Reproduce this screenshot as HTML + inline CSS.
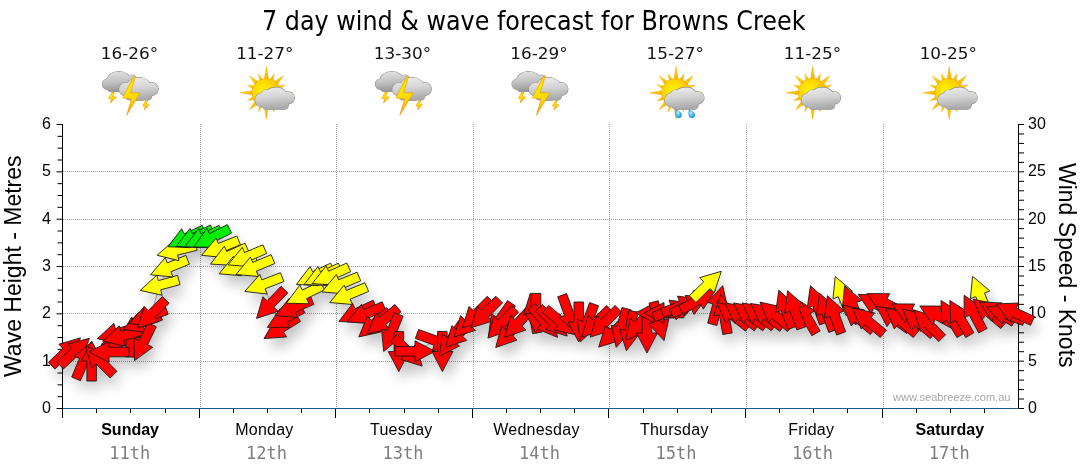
<!DOCTYPE html><html><head><meta charset="utf-8"><title>7 day wind &amp; wave forecast for Browns Creek</title>
<style>html,body{margin:0;padding:0;background:#fff;}body{width:1080px;height:475px;overflow:hidden;}svg{display:block}.t{font-family:"DejaVu Sans","Liberation Sans",sans-serif;}.a{font-family:"Liberation Sans",Arial,sans-serif;}.m{font-family:"DejaVu Sans Mono","Liberation Mono",monospace;}</style></head><body>
<svg width="1080" height="475" viewBox="0 0 1080 475">
<defs>
<linearGradient id="cg" x1="0" y1="0" x2="0.15" y2="1"><stop offset="0" stop-color="#eeeeee"/><stop offset="0.5" stop-color="#d4d4d4"/><stop offset="1" stop-color="#aaaaaa"/></linearGradient>
<linearGradient id="cg2" x1="0" y1="0" x2="0.15" y2="1"><stop offset="0" stop-color="#e4e4e4"/><stop offset="0.55" stop-color="#c3c3c3"/><stop offset="1" stop-color="#979797"/></linearGradient>
<radialGradient id="sg" cx="0.38" cy="0.42" r="0.75"><stop offset="0" stop-color="#fff400"/><stop offset="0.55" stop-color="#ffd000"/><stop offset="1" stop-color="#f5a000"/></radialGradient>
<linearGradient id="rg" x1="0" y1="0" x2="1" y2="1"><stop offset="0" stop-color="#ffe600"/><stop offset="1" stop-color="#f5a300"/></linearGradient>
<linearGradient id="bg" x1="0" y1="0" x2="0.3" y2="1"><stop offset="0" stop-color="#f5a800"/><stop offset="0.35" stop-color="#ffe800"/><stop offset="0.7" stop-color="#ffd800"/><stop offset="1" stop-color="#f29a00"/></linearGradient>
<radialGradient id="dg" cx="0.4" cy="0.4" r="0.7"><stop offset="0" stop-color="#bff0ff"/><stop offset="0.6" stop-color="#34b6f0"/><stop offset="1" stop-color="#1485d0"/></radialGradient>
<filter id="sh" x="-10%" y="-30%" width="120%" height="180%"><feGaussianBlur stdDeviation="6.5"/></filter>
<filter id="ish" x="-20%" y="-20%" width="140%" height="140%"><feGaussianBlur stdDeviation="1"/></filter>
</defs>
<text class="t" x="262" y="29.6" font-size="27" fill="#000" textLength="543.5" lengthAdjust="spacingAndGlyphs">7 day wind &amp; wave forecast for Browns Creek</text>
<text class="t" x="129.4" y="58.9" font-size="16.5" fill="#111" text-anchor="middle" textLength="57.3" lengthAdjust="spacingAndGlyphs">16-26°</text>
<text class="t" x="264.8" y="58.9" font-size="16.5" fill="#111" text-anchor="middle" textLength="57.3" lengthAdjust="spacingAndGlyphs">11-27°</text>
<text class="t" x="402.4" y="58.9" font-size="16.5" fill="#111" text-anchor="middle" textLength="57.3" lengthAdjust="spacingAndGlyphs">13-30°</text>
<text class="t" x="539.0" y="58.9" font-size="16.5" fill="#111" text-anchor="middle" textLength="57.3" lengthAdjust="spacingAndGlyphs">16-29°</text>
<text class="t" x="675.2" y="58.9" font-size="16.5" fill="#111" text-anchor="middle" textLength="57.3" lengthAdjust="spacingAndGlyphs">15-27°</text>
<text class="t" x="812.4" y="58.9" font-size="16.5" fill="#111" text-anchor="middle" textLength="57.3" lengthAdjust="spacingAndGlyphs">11-25°</text>
<text class="t" x="948.3" y="58.9" font-size="16.5" fill="#111" text-anchor="middle" textLength="57.3" lengthAdjust="spacingAndGlyphs">10-25°</text>
<path d="M63 361.5H1018 M63 313.5H1018 M63 266.5H1018 M63 219.5H1018 M63 171.5H1018 M200.5 124V408 M336.5 124V408 M473.5 124V408 M609.5 124V408 M746.5 124V408 M883.5 124V408" stroke="#a0a0a0" stroke-width="1" stroke-dasharray="1 1" fill="none"/>
<g><polygon points="112.19,91.80 114.39,91.80 112.59,96.80 116.39,97.00 110.39,103.00 111.59,98.60 108.59,98.40" fill="url(#bg)" stroke="#e69a00" stroke-width="0.6" stroke-linejoin="round"/><polygon points="145.79,100.40 147.66,100.40 146.13,104.65 149.36,104.82 144.26,109.92 145.28,106.18 142.73,106.01" fill="url(#bg)" stroke="#e69a00" stroke-width="0.6" stroke-linejoin="round"/><clipPath id="cl1"><ellipse cx="107.49" cy="84.20" rx="5.20" ry="5.20"/><ellipse cx="118.79" cy="81.00" rx="12.00" ry="9.50"/><ellipse cx="131.79" cy="80.50" rx="5.50" ry="5.50"/><rect x="107.79" y="81.00" width="25.00" height="10.50" rx="3"/></clipPath><g stroke="#999999" stroke-width="1.2" fill="#999999"><ellipse cx="107.49" cy="84.20" rx="5.20" ry="5.20"/><ellipse cx="118.79" cy="81.00" rx="12.00" ry="9.50"/><ellipse cx="131.79" cy="80.50" rx="5.50" ry="5.50"/><rect x="107.79" y="81.00" width="25.00" height="10.50" rx="3"/></g><rect x="102.29" y="71.50" width="35.00" height="20.00" fill="url(#cg2)" clip-path="url(#cl1)"/><clipPath id="cl2"><ellipse cx="125.59" cy="89.30" rx="6.50" ry="6.50"/><ellipse cx="138.79" cy="89.00" rx="13.00" ry="11.50"/><ellipse cx="151.79" cy="89.00" rx="6.40" ry="6.40"/><rect x="125.79" y="88.00" width="26.00" height="12.00" rx="4"/></clipPath><g stroke="#999999" stroke-width="1.2" fill="#999999"><ellipse cx="125.59" cy="89.30" rx="6.50" ry="6.50"/><ellipse cx="138.79" cy="89.00" rx="13.00" ry="11.50"/><ellipse cx="151.79" cy="89.00" rx="6.40" ry="6.40"/><rect x="125.79" y="88.00" width="26.00" height="12.00" rx="4"/></g><rect x="119.09" y="77.50" width="39.10" height="23.00" fill="url(#cg)" clip-path="url(#cl2)"/><polygon points="133.49,76.40 135.29,76.90 130.49,92.80 140.09,93.00 126.69,115.20 131.49,98.80 122.69,98.00" fill="url(#bg)" stroke="#e69a00" stroke-width="0.6" stroke-linejoin="round"/></g>
<g><g fill="url(#rg)" stroke="#f2a200" stroke-width="0.4"><polygon points="263.93,80.80 266.36,66.30 268.79,80.80"/><polygon points="269.06,80.86 274.20,73.86 272.89,82.45"/><polygon points="273.12,82.60 283.33,75.83 276.56,86.04"/><polygon points="276.71,86.27 285.30,84.95 278.29,90.10"/><polygon points="278.35,90.37 292.86,92.80 278.35,95.23"/><polygon points="278.29,95.50 285.30,100.65 276.71,99.33"/><polygon points="276.56,99.56 283.33,109.77 273.12,103.00"/><polygon points="272.89,103.15 274.20,111.74 269.06,104.74"/><polygon points="268.79,104.80 266.36,119.30 263.93,104.80"/><polygon points="263.65,104.74 258.51,111.74 259.83,103.15"/><polygon points="259.59,103.00 249.39,109.77 256.16,99.56"/><polygon points="256.00,99.33 247.42,100.65 254.42,95.50"/><polygon points="254.36,95.23 239.86,92.80 254.36,90.37"/><polygon points="254.42,90.10 247.42,84.95 256.00,86.27"/><polygon points="256.16,86.04 249.39,75.83 259.59,82.60"/><polygon points="259.83,82.45 258.51,73.86 263.65,80.86"/></g><circle cx="266.36" cy="92.80" r="14.4" fill="url(#sg)" stroke="#f0a000" stroke-width="0.5"/><clipPath id="cl3"><ellipse cx="261.86" cy="100.00" rx="6.70" ry="6.70"/><ellipse cx="265.86" cy="95.00" rx="5.00" ry="5.00"/><ellipse cx="275.86" cy="98.20" rx="12.50" ry="10.80"/><ellipse cx="288.36" cy="97.80" rx="6.00" ry="6.00"/><rect x="262.36" y="96.00" width="26.00" height="13.20" rx="4"/></clipPath><g stroke="#999999" stroke-width="1.2" fill="#999999"><ellipse cx="261.86" cy="100.00" rx="6.70" ry="6.70"/><ellipse cx="265.86" cy="95.00" rx="5.00" ry="5.00"/><ellipse cx="275.86" cy="98.20" rx="12.50" ry="10.80"/><ellipse cx="288.36" cy="97.80" rx="6.00" ry="6.00"/><rect x="262.36" y="96.00" width="26.00" height="13.20" rx="4"/></g><rect x="255.16" y="87.40" width="39.20" height="21.80" fill="url(#cg)" clip-path="url(#cl3)"/></g>
<g><polygon points="385.33,91.80 387.53,91.80 385.73,96.80 389.53,97.00 383.53,103.00 384.73,98.60 381.73,98.40" fill="url(#bg)" stroke="#e69a00" stroke-width="0.6" stroke-linejoin="round"/><polygon points="418.93,100.40 420.80,100.40 419.27,104.65 422.50,104.82 417.40,109.92 418.42,106.18 415.87,106.01" fill="url(#bg)" stroke="#e69a00" stroke-width="0.6" stroke-linejoin="round"/><clipPath id="cl4"><ellipse cx="380.63" cy="84.20" rx="5.20" ry="5.20"/><ellipse cx="391.93" cy="81.00" rx="12.00" ry="9.50"/><ellipse cx="404.93" cy="80.50" rx="5.50" ry="5.50"/><rect x="380.93" y="81.00" width="25.00" height="10.50" rx="3"/></clipPath><g stroke="#999999" stroke-width="1.2" fill="#999999"><ellipse cx="380.63" cy="84.20" rx="5.20" ry="5.20"/><ellipse cx="391.93" cy="81.00" rx="12.00" ry="9.50"/><ellipse cx="404.93" cy="80.50" rx="5.50" ry="5.50"/><rect x="380.93" y="81.00" width="25.00" height="10.50" rx="3"/></g><rect x="375.43" y="71.50" width="35.00" height="20.00" fill="url(#cg2)" clip-path="url(#cl4)"/><clipPath id="cl5"><ellipse cx="398.73" cy="89.30" rx="6.50" ry="6.50"/><ellipse cx="411.93" cy="89.00" rx="13.00" ry="11.50"/><ellipse cx="424.93" cy="89.00" rx="6.40" ry="6.40"/><rect x="398.93" y="88.00" width="26.00" height="12.00" rx="4"/></clipPath><g stroke="#999999" stroke-width="1.2" fill="#999999"><ellipse cx="398.73" cy="89.30" rx="6.50" ry="6.50"/><ellipse cx="411.93" cy="89.00" rx="13.00" ry="11.50"/><ellipse cx="424.93" cy="89.00" rx="6.40" ry="6.40"/><rect x="398.93" y="88.00" width="26.00" height="12.00" rx="4"/></g><rect x="392.23" y="77.50" width="39.10" height="23.00" fill="url(#cg)" clip-path="url(#cl5)"/><polygon points="406.63,76.40 408.43,76.90 403.63,92.80 413.23,93.00 399.83,115.20 404.63,98.80 395.83,98.00" fill="url(#bg)" stroke="#e69a00" stroke-width="0.6" stroke-linejoin="round"/></g>
<g><polygon points="521.90,91.80 524.10,91.80 522.30,96.80 526.10,97.00 520.10,103.00 521.30,98.60 518.30,98.40" fill="url(#bg)" stroke="#e69a00" stroke-width="0.6" stroke-linejoin="round"/><polygon points="555.50,100.40 557.37,100.40 555.84,104.65 559.07,104.82 553.97,109.92 554.99,106.18 552.44,106.01" fill="url(#bg)" stroke="#e69a00" stroke-width="0.6" stroke-linejoin="round"/><clipPath id="cl6"><ellipse cx="517.20" cy="84.20" rx="5.20" ry="5.20"/><ellipse cx="528.50" cy="81.00" rx="12.00" ry="9.50"/><ellipse cx="541.50" cy="80.50" rx="5.50" ry="5.50"/><rect x="517.50" y="81.00" width="25.00" height="10.50" rx="3"/></clipPath><g stroke="#999999" stroke-width="1.2" fill="#999999"><ellipse cx="517.20" cy="84.20" rx="5.20" ry="5.20"/><ellipse cx="528.50" cy="81.00" rx="12.00" ry="9.50"/><ellipse cx="541.50" cy="80.50" rx="5.50" ry="5.50"/><rect x="517.50" y="81.00" width="25.00" height="10.50" rx="3"/></g><rect x="512.00" y="71.50" width="35.00" height="20.00" fill="url(#cg2)" clip-path="url(#cl6)"/><clipPath id="cl7"><ellipse cx="535.30" cy="89.30" rx="6.50" ry="6.50"/><ellipse cx="548.50" cy="89.00" rx="13.00" ry="11.50"/><ellipse cx="561.50" cy="89.00" rx="6.40" ry="6.40"/><rect x="535.50" y="88.00" width="26.00" height="12.00" rx="4"/></clipPath><g stroke="#999999" stroke-width="1.2" fill="#999999"><ellipse cx="535.30" cy="89.30" rx="6.50" ry="6.50"/><ellipse cx="548.50" cy="89.00" rx="13.00" ry="11.50"/><ellipse cx="561.50" cy="89.00" rx="6.40" ry="6.40"/><rect x="535.50" y="88.00" width="26.00" height="12.00" rx="4"/></g><rect x="528.80" y="77.50" width="39.10" height="23.00" fill="url(#cg)" clip-path="url(#cl7)"/><polygon points="543.20,76.40 545.00,76.90 540.20,92.80 549.80,93.00 536.40,115.20 541.20,98.80 532.40,98.00" fill="url(#bg)" stroke="#e69a00" stroke-width="0.6" stroke-linejoin="round"/></g>
<g><g fill="url(#rg)" stroke="#f2a200" stroke-width="0.4"><polygon points="673.64,80.80 676.07,66.30 678.50,80.80"/><polygon points="678.77,80.86 683.92,73.86 682.60,82.45"/><polygon points="682.83,82.60 693.04,75.83 686.27,86.04"/><polygon points="686.42,86.27 695.01,84.95 688.01,90.10"/><polygon points="688.07,90.37 702.57,92.80 688.07,95.23"/><polygon points="688.01,95.50 695.01,100.65 686.42,99.33"/><polygon points="686.27,99.56 693.04,109.77 682.83,103.00"/><polygon points="682.60,103.15 683.92,111.74 678.77,104.74"/><polygon points="678.50,104.80 676.07,119.30 673.64,104.80"/><polygon points="673.37,104.74 668.23,111.74 669.54,103.15"/><polygon points="669.31,103.00 659.10,109.77 665.87,99.56"/><polygon points="665.72,99.33 657.13,100.65 664.13,95.50"/><polygon points="664.08,95.23 649.57,92.80 664.08,90.37"/><polygon points="664.13,90.10 657.13,84.95 665.72,86.27"/><polygon points="665.87,86.04 659.10,75.83 669.31,82.60"/><polygon points="669.54,82.45 668.23,73.86 673.37,80.86"/></g><circle cx="676.07" cy="92.80" r="14.4" fill="url(#sg)" stroke="#f0a000" stroke-width="0.5"/><path d="M675.67 111.50 Q674.67 117.50 678.87 118.10 Q682.47 117.50 681.07 113.00 L675.67 109.00 Z" fill="url(#dg)" stroke="#1b7fc0" stroke-width="0.4"/><path d="M688.87 111.50 Q687.87 117.50 692.07 118.10 Q695.67 117.50 694.27 113.00 L688.87 109.00 Z" fill="url(#dg)" stroke="#1b7fc0" stroke-width="0.4"/><clipPath id="cl8"><ellipse cx="671.57" cy="100.00" rx="6.70" ry="6.70"/><ellipse cx="675.57" cy="95.00" rx="5.00" ry="5.00"/><ellipse cx="685.57" cy="98.20" rx="12.50" ry="10.80"/><ellipse cx="698.07" cy="97.80" rx="6.00" ry="6.00"/><rect x="672.07" y="96.00" width="26.00" height="13.20" rx="4"/></clipPath><g stroke="#999999" stroke-width="1.2" fill="#999999"><ellipse cx="671.57" cy="100.00" rx="6.70" ry="6.70"/><ellipse cx="675.57" cy="95.00" rx="5.00" ry="5.00"/><ellipse cx="685.57" cy="98.20" rx="12.50" ry="10.80"/><ellipse cx="698.07" cy="97.80" rx="6.00" ry="6.00"/><rect x="672.07" y="96.00" width="26.00" height="13.20" rx="4"/></g><rect x="664.87" y="87.40" width="39.20" height="21.80" fill="url(#cg)" clip-path="url(#cl8)"/></g>
<g><g fill="url(#rg)" stroke="#f2a200" stroke-width="0.4"><polygon points="810.21,80.80 812.64,66.30 815.07,80.80"/><polygon points="815.35,80.86 820.49,73.86 819.17,82.45"/><polygon points="819.41,82.60 829.61,75.83 822.84,86.04"/><polygon points="823.00,86.27 831.58,84.95 824.58,90.10"/><polygon points="824.64,90.37 839.14,92.80 824.64,95.23"/><polygon points="824.58,95.50 831.58,100.65 823.00,99.33"/><polygon points="822.84,99.56 829.61,109.77 819.41,103.00"/><polygon points="819.17,103.15 820.49,111.74 815.35,104.74"/><polygon points="815.07,104.80 812.64,119.30 810.21,104.80"/><polygon points="809.94,104.74 804.80,111.74 806.11,103.15"/><polygon points="805.88,103.00 795.67,109.77 802.44,99.56"/><polygon points="802.29,99.33 793.70,100.65 800.70,95.50"/><polygon points="800.65,95.23 786.14,92.80 800.65,90.37"/><polygon points="800.70,90.10 793.70,84.95 802.29,86.27"/><polygon points="802.44,86.04 795.67,75.83 805.88,82.60"/><polygon points="806.11,82.45 804.80,73.86 809.94,80.86"/></g><circle cx="812.64" cy="92.80" r="14.4" fill="url(#sg)" stroke="#f0a000" stroke-width="0.5"/><clipPath id="cl9"><ellipse cx="808.14" cy="100.00" rx="6.70" ry="6.70"/><ellipse cx="812.14" cy="95.00" rx="5.00" ry="5.00"/><ellipse cx="822.14" cy="98.20" rx="12.50" ry="10.80"/><ellipse cx="834.64" cy="97.80" rx="6.00" ry="6.00"/><rect x="808.64" y="96.00" width="26.00" height="13.20" rx="4"/></clipPath><g stroke="#999999" stroke-width="1.2" fill="#999999"><ellipse cx="808.14" cy="100.00" rx="6.70" ry="6.70"/><ellipse cx="812.14" cy="95.00" rx="5.00" ry="5.00"/><ellipse cx="822.14" cy="98.20" rx="12.50" ry="10.80"/><ellipse cx="834.64" cy="97.80" rx="6.00" ry="6.00"/><rect x="808.64" y="96.00" width="26.00" height="13.20" rx="4"/></g><rect x="801.44" y="87.40" width="39.20" height="21.80" fill="url(#cg)" clip-path="url(#cl9)"/></g>
<g><g fill="url(#rg)" stroke="#f2a200" stroke-width="0.4"><polygon points="946.78,80.80 949.21,66.30 951.65,80.80"/><polygon points="951.92,80.86 957.06,73.86 955.74,82.45"/><polygon points="955.98,82.60 966.18,75.83 959.42,86.04"/><polygon points="959.57,86.27 968.15,84.95 961.15,90.10"/><polygon points="961.21,90.37 975.71,92.80 961.21,95.23"/><polygon points="961.15,95.50 968.15,100.65 959.57,99.33"/><polygon points="959.42,99.56 966.18,109.77 955.98,103.00"/><polygon points="955.74,103.15 957.06,111.74 951.92,104.74"/><polygon points="951.65,104.80 949.21,119.30 946.78,104.80"/><polygon points="946.51,104.74 941.37,111.74 942.68,103.15"/><polygon points="942.45,103.00 932.24,109.77 939.01,99.56"/><polygon points="938.86,99.33 930.27,100.65 937.28,95.50"/><polygon points="937.22,95.23 922.71,92.80 937.22,90.37"/><polygon points="937.28,90.10 930.27,84.95 938.86,86.27"/><polygon points="939.01,86.04 932.24,75.83 942.45,82.60"/><polygon points="942.68,82.45 941.37,73.86 946.51,80.86"/></g><circle cx="949.21" cy="92.80" r="14.4" fill="url(#sg)" stroke="#f0a000" stroke-width="0.5"/><clipPath id="cl10"><ellipse cx="944.71" cy="100.00" rx="6.70" ry="6.70"/><ellipse cx="948.71" cy="95.00" rx="5.00" ry="5.00"/><ellipse cx="958.71" cy="98.20" rx="12.50" ry="10.80"/><ellipse cx="971.21" cy="97.80" rx="6.00" ry="6.00"/><rect x="945.21" y="96.00" width="26.00" height="13.20" rx="4"/></clipPath><g stroke="#999999" stroke-width="1.2" fill="#999999"><ellipse cx="944.71" cy="100.00" rx="6.70" ry="6.70"/><ellipse cx="948.71" cy="95.00" rx="5.00" ry="5.00"/><ellipse cx="958.71" cy="98.20" rx="12.50" ry="10.80"/><ellipse cx="971.21" cy="97.80" rx="6.00" ry="6.00"/><rect x="945.21" y="96.00" width="26.00" height="13.20" rx="4"/></g><rect x="938.01" y="87.40" width="39.20" height="21.80" fill="url(#cg)" clip-path="url(#cl10)"/></g>
<path d="M62.5 124V417 M1018.5 124V408.5 M56.5 408.50H62.5 M57.5 396.67H62.5 M57.5 384.83H62.5 M57.5 373.00H62.5 M56.5 361.17H62.5 M57.5 349.33H62.5 M57.5 337.50H62.5 M57.5 325.67H62.5 M56.5 313.83H62.5 M57.5 302.00H62.5 M57.5 290.17H62.5 M57.5 278.33H62.5 M56.5 266.50H62.5 M57.5 254.67H62.5 M57.5 242.83H62.5 M57.5 231.00H62.5 M56.5 219.17H62.5 M57.5 207.33H62.5 M57.5 195.50H62.5 M57.5 183.67H62.5 M56.5 171.83H62.5 M57.5 160.00H62.5 M57.5 148.17H62.5 M57.5 136.33H62.5 M56.5 124.50H62.5 M1018.5 408.50H1024 M1018.5 399.03H1024 M1018.5 389.57H1024 M1018.5 380.10H1024 M1018.5 370.63H1024 M1018.5 361.17H1024 M1018.5 351.70H1024 M1018.5 342.23H1024 M1018.5 332.77H1024 M1018.5 323.30H1024 M1018.5 313.83H1024 M1018.5 304.37H1024 M1018.5 294.90H1024 M1018.5 285.43H1024 M1018.5 275.97H1024 M1018.5 266.50H1024 M1018.5 257.03H1024 M1018.5 247.57H1024 M1018.5 238.10H1024 M1018.5 228.63H1024 M1018.5 219.17H1024 M1018.5 209.70H1024 M1018.5 200.23H1024 M1018.5 190.77H1024 M1018.5 181.30H1024 M1018.5 171.83H1024 M1018.5 162.37H1024 M1018.5 152.90H1024 M1018.5 143.43H1024 M1018.5 133.97H1024 M1018.5 124.50H1024 M62.5 408V418 M96.5 408V413 M130.5 408V413 M165.5 408V413 M199.5 408V418 M233.5 408V413 M267.5 408V413 M301.5 408V413 M335.5 408V418 M369.5 408V413 M404.5 408V413 M438.5 408V413 M472.5 408V418 M506.5 408V413 M540.5 408V413 M574.5 408V413 M608.5 408V418 M643.5 408V413 M677.5 408V413 M711.5 408V413 M745.5 408V418 M779.5 408V413 M813.5 408V413 M847.5 408V413 M882.5 408V418 M916.5 408V413 M950.5 408V413 M984.5 408V413" stroke="#000" stroke-width="1" fill="none"/>
<path d="M63 408.5H1018" stroke="#1d5b8c" stroke-width="1.2" fill="none"/>
<text class="a" x="51" y="413.0" font-size="16" text-anchor="end">0</text>
<text class="a" x="51" y="365.7" font-size="16" text-anchor="end">1</text>
<text class="a" x="51" y="318.3" font-size="16" text-anchor="end">2</text>
<text class="a" x="51" y="271.0" font-size="16" text-anchor="end">3</text>
<text class="a" x="51" y="223.7" font-size="16" text-anchor="end">4</text>
<text class="a" x="51" y="176.3" font-size="16" text-anchor="end">5</text>
<text class="a" x="51" y="129.0" font-size="16" text-anchor="end">6</text>
<text class="a" x="1028" y="413.0" font-size="16">0</text>
<text class="a" x="1028" y="365.7" font-size="16">5</text>
<text class="a" x="1028" y="318.3" font-size="16">10</text>
<text class="a" x="1028" y="271.0" font-size="16">15</text>
<text class="a" x="1028" y="223.7" font-size="16">20</text>
<text class="a" x="1028" y="176.3" font-size="16">25</text>
<text class="a" x="1028" y="129.0" font-size="16">30</text>
<text class="a" x="21" y="377" font-size="23" transform="rotate(-90 21 377)">Wave Height - Metres</text>
<text class="a" x="1059" y="163" font-size="23" transform="rotate(90 1059 163)">Wind Speed - Knots</text>
<text class="a" x="130.1" y="435" font-size="16" text-anchor="middle" font-weight="bold">Sunday</text>
<text class="m" x="129.8" y="458.5" font-size="17" fill="#7e7e7e" text-anchor="middle">11th</text>
<text class="a" x="264.4" y="435" font-size="16" text-anchor="middle" letter-spacing="0.25">Monday</text>
<text class="m" x="266.4" y="458.5" font-size="17" fill="#7e7e7e" text-anchor="middle">12th</text>
<text class="a" x="401.3" y="435" font-size="16" text-anchor="middle" letter-spacing="0.25">Tuesday</text>
<text class="m" x="402.9" y="458.5" font-size="17" fill="#7e7e7e" text-anchor="middle">13th</text>
<text class="a" x="536.4" y="435" font-size="16" text-anchor="middle" letter-spacing="0.25">Wednesday</text>
<text class="m" x="539.5" y="458.5" font-size="17" fill="#7e7e7e" text-anchor="middle">14th</text>
<text class="a" x="674.3" y="435" font-size="16" text-anchor="middle" letter-spacing="0.25">Thursday</text>
<text class="m" x="676.1" y="458.5" font-size="17" fill="#7e7e7e" text-anchor="middle">15th</text>
<text class="a" x="811.3" y="435" font-size="16" text-anchor="middle" letter-spacing="0.25">Friday</text>
<text class="m" x="812.6" y="458.5" font-size="17" fill="#7e7e7e" text-anchor="middle">16th</text>
<text class="a" x="949.8" y="435" font-size="16" text-anchor="middle" font-weight="bold">Saturday</text>
<text class="m" x="949.2" y="458.5" font-size="17" fill="#7e7e7e" text-anchor="middle">17th</text>
<text class="a" x="893" y="400.6" font-size="11" fill="#a8a8a8" textLength="117.5" lengthAdjust="spacingAndGlyphs">www.seabreeze.com.au</text>
<g filter="url(#sh)" fill="#000" opacity="0.24" transform="translate(4 9)"><polygon points="80.4,337.9 73.3,359.4 69.3,355.2 55.0,369.1 48.4,362.3 62.8,348.4 58.8,344.2"/> <polygon points="89.4,338.3 81.9,359.6 78.0,355.4 63.4,369.0 56.9,362.1 71.5,348.4 67.6,344.2"/> <polygon points="91.7,342.0 93.6,364.6 88.3,362.3 80.5,380.7 71.7,377.0 79.5,358.6 74.2,356.3"/> <polygon points="91.7,341.0 102.2,361.0 96.4,361.0 96.4,381.0 86.9,381.0 86.9,361.0 81.2,361.0"/> <polygon points="85.3,346.4 106.8,353.1 102.8,357.1 116.9,371.3 110.2,378.0 96.0,363.9 92.0,367.9"/> <polygon points="101.2,344.3 119.5,331.1 120.3,336.8 140.1,334.0 141.5,343.4 121.7,346.2 122.5,351.9"/> <polygon points="131.7,317.0 141.5,337.4 135.7,337.2 135.0,357.2 125.6,356.8 126.3,336.8 120.5,336.6"/> <polygon points="89.0,352.0 109.0,341.5 109.0,347.2 129.0,347.2 129.0,356.8 109.0,356.8 109.0,362.5"/> <polygon points="97.3,338.7 113.9,323.4 115.4,328.9 134.7,323.7 137.1,332.9 117.8,338.1 119.3,343.6"/> <polygon points="102.7,341.2 119.3,325.9 120.8,331.4 140.1,326.2 142.5,335.4 123.2,340.6 124.7,346.1"/> <polygon points="123.2,329.3 138.4,312.6 140.4,318.0 159.2,311.2 162.4,320.1 143.6,327.0 145.6,332.4"/> <polygon points="129.0,323.5 144.2,306.8 146.2,312.2 165.0,305.4 168.2,314.3 149.4,321.2 151.4,326.6"/> <polygon points="134.5,360.6 133.9,338.0 139.0,340.6 147.8,322.6 156.3,326.8 147.6,344.7 152.7,347.3"/> <polygon points="137.5,328.1 144.2,306.6 148.2,310.6 162.4,296.5 169.1,303.2 155.0,317.4 159.0,321.4"/> <polygon points="140.2,290.4 156.8,275.1 158.3,280.6 177.6,275.4 180.0,284.6 160.7,289.8 162.2,295.3"/> <polygon points="150.6,274.8 165.2,257.6 167.3,262.9 185.9,255.4 189.4,264.2 170.9,271.7 173.0,277.0"/> <polygon points="157.1,255.3 174.0,240.3 175.4,245.9 194.8,241.1 197.1,250.3 177.6,255.1 179.0,260.7"/> <polygon points="168.0,246.7 181.7,228.7 184.1,233.9 202.2,225.4 206.2,234.1 188.1,242.5 190.5,247.7"/> <polygon points="176.3,246.4 190.0,228.4 192.4,233.6 210.5,225.1 214.5,233.8 196.4,242.2 198.8,247.4"/> <polygon points="184.9,246.7 198.6,228.7 201.0,233.9 219.1,225.4 223.1,234.1 205.0,242.5 207.4,247.7"/> <polygon points="193.8,247.0 206.8,228.5 209.4,233.7 227.3,224.6 231.6,233.1 213.8,242.1 216.4,247.3"/> <polygon points="201.6,255.3 216.2,238.1 218.3,243.4 236.9,236.0 240.4,244.8 221.9,252.3 224.0,257.6"/> <polygon points="210.5,264.1 224.3,246.3 226.7,251.5 244.9,243.2 248.9,251.8 230.7,260.1 233.1,265.3"/> <polygon points="219.1,273.8 233.4,256.3 235.6,261.6 254.1,253.8 257.8,262.6 239.4,270.4 241.6,275.7"/> <polygon points="228.0,264.9 242.3,247.3 244.5,252.6 262.9,244.8 266.7,253.5 248.3,261.4 250.5,266.7"/> <polygon points="236.0,274.5 250.4,257.1 252.7,262.4 271.1,254.7 274.8,263.5 256.3,271.2 258.6,276.5"/> <polygon points="244.8,291.4 259.8,274.5 261.8,279.9 280.5,272.7 283.9,281.6 265.2,288.7 267.2,294.1"/> <polygon points="256.6,318.4 262.9,296.7 267.1,300.7 281.0,286.3 287.8,292.9 273.9,307.3 278.1,311.3"/> <polygon points="264.0,338.6 275.4,319.1 278.5,324.0 295.4,313.4 300.5,321.4 283.5,332.0 286.6,336.9"/> <polygon points="267.3,327.4 280.1,308.7 282.8,313.8 300.4,304.4 304.9,312.8 287.2,322.2 289.9,327.3"/> <polygon points="275.2,315.6 289.5,298.1 291.7,303.4 310.2,295.6 313.9,304.4 295.5,312.2 297.7,317.5"/> <polygon points="286.4,303.2 299.8,285.0 302.3,290.1 320.3,281.4 324.5,289.9 306.5,298.7 309.0,303.8"/> <polygon points="296.4,284.5 310.1,266.5 312.5,271.7 330.6,263.2 334.6,271.9 316.5,280.3 318.9,285.5"/> <polygon points="304.2,284.5 317.9,266.5 320.3,271.7 338.4,263.2 342.4,271.9 324.3,280.3 326.7,285.5"/> <polygon points="312.2,283.6 326.2,265.9 328.6,271.2 346.8,263.0 350.7,271.7 332.4,279.8 334.8,285.1"/> <polygon points="321.9,291.9 336.4,274.5 338.6,279.8 357.1,272.2 360.7,280.9 342.2,288.6 344.4,293.9"/> <polygon points="329.8,302.5 344.2,285.1 346.5,290.4 364.9,282.7 368.6,291.5 350.1,299.2 352.4,304.5"/> <polygon points="338.9,321.5 352.6,303.5 355.0,308.7 373.1,300.2 377.1,308.9 359.0,317.3 361.4,322.5"/> <polygon points="347.2,321.8 361.5,304.3 363.7,309.6 382.2,301.8 385.9,310.6 367.5,318.4 369.7,323.7"/> <polygon points="358.8,336.9 367.4,316.0 371.0,320.4 386.4,307.5 392.5,314.8 377.2,327.6 380.8,332.0"/> <polygon points="367.3,333.9 375.9,313.0 379.5,317.4 394.9,304.5 401.0,311.8 385.7,324.6 389.3,329.0"/> <polygon points="383.7,351.5 381.5,329.1 386.8,331.2 394.3,312.7 403.1,316.2 395.6,334.8 400.9,336.9"/> <polygon points="398.8,371.6 388.3,351.6 394.1,351.6 394.1,331.6 403.6,331.6 403.6,351.6 409.3,351.6"/> <polygon points="422.2,366.1 400.7,359.4 404.7,355.4 390.6,341.2 397.3,334.5 411.5,348.6 415.5,344.6"/> <polygon points="435.0,351.3 415.0,361.8 415.0,356.1 395.0,356.1 395.0,346.6 415.0,346.6 415.0,340.8"/> <polygon points="454.6,347.6 432.2,350.7 434.2,345.3 415.4,338.4 418.6,329.5 437.4,336.3 439.4,330.9"/> <polygon points="442.4,371.5 431.9,351.5 437.6,351.5 437.6,331.5 447.1,331.5 447.1,351.5 452.9,351.5"/> <polygon points="439.4,356.4 442.3,334.0 447.0,337.3 458.5,320.9 466.3,326.3 454.8,342.7 459.5,346.0"/> <polygon points="445.3,347.1 452.0,325.6 456.0,329.6 470.2,315.5 476.9,322.2 462.8,336.4 466.8,340.4"/> <polygon points="453.9,337.1 460.6,315.6 464.6,319.6 478.8,305.5 485.5,312.2 471.4,326.4 475.4,330.4"/> <polygon points="462.4,327.9 469.1,306.4 473.1,310.4 487.3,296.3 494.0,303.0 479.9,317.2 483.9,321.2"/> <polygon points="470.9,327.8 477.6,306.3 481.6,310.3 495.8,296.2 502.5,302.9 488.4,317.1 492.4,321.1"/> <polygon points="488.5,336.1 491.4,313.7 496.1,317.0 507.6,300.6 515.4,306.0 503.9,322.4 508.6,325.7"/> <polygon points="487.9,338.1 493.8,316.3 498.0,320.3 511.7,305.6 518.6,312.1 505.0,326.7 509.2,330.7"/> <polygon points="495.7,347.5 501.7,325.7 505.9,329.7 519.5,315.0 526.5,321.5 512.8,336.1 517.0,340.1"/> <polygon points="504.7,337.4 510.6,315.6 514.8,319.6 528.5,304.9 535.4,311.4 521.8,326.0 526.0,330.0"/> <polygon points="530.3,293.4 544.1,311.3 538.5,312.3 542.0,332.0 532.6,333.6 529.1,313.9 523.5,314.9"/> <polygon points="536.0,333.4 525.5,313.4 531.2,313.4 531.2,293.4 540.8,293.4 540.8,313.4 546.5,313.4"/> <polygon points="557.5,337.3 536.6,328.7 541.0,325.1 528.1,309.7 535.4,303.6 548.2,318.9 552.6,315.3"/> <polygon points="567.2,336.1 545.7,329.4 549.7,325.4 535.6,311.2 542.3,304.5 556.5,318.6 560.5,314.6"/> <polygon points="576.3,334.9 554.3,330.0 557.9,325.6 542.6,312.8 548.7,305.5 564.1,318.4 567.7,314.0"/> <polygon points="575.8,332.8 559.1,317.6 564.5,315.6 557.7,296.8 566.6,293.6 573.5,312.4 578.9,310.4"/> <polygon points="578.7,342.0 568.2,322.0 574.0,322.0 574.0,302.0 583.5,302.0 583.5,322.0 589.2,322.0"/> <polygon points="580.4,341.8 577.3,319.4 582.7,321.4 589.6,302.6 598.5,305.8 591.7,324.6 597.1,326.6"/> <polygon points="581.7,337.1 588.4,315.6 592.4,319.6 606.6,305.5 613.3,312.2 599.2,326.4 603.2,330.4"/> <polygon points="590.2,337.1 596.9,315.6 600.9,319.6 615.1,305.5 621.8,312.2 607.7,326.4 611.7,330.4"/> <polygon points="598.7,347.1 605.4,325.6 609.4,329.6 623.6,315.5 630.3,322.2 616.2,336.4 620.2,340.4"/> <polygon points="616.2,347.3 611.3,325.3 616.8,326.8 622.0,307.5 631.2,309.9 626.0,329.2 631.5,330.7"/> <polygon points="626.4,350.7 619.6,329.2 625.2,330.2 628.7,310.5 638.1,312.1 634.6,331.8 640.2,332.8"/> <polygon points="625.5,340.3 630.4,318.3 634.8,321.9 647.6,306.6 654.9,312.7 642.0,328.1 646.4,331.7"/> <polygon points="647.0,353.0 636.5,333.0 642.2,333.0 642.2,313.0 651.8,313.0 651.8,333.0 657.5,333.0"/> <polygon points="635.5,313.0 655.5,302.5 655.5,308.2 675.5,308.2 675.5,317.8 655.5,317.8 655.5,323.5"/> <polygon points="664.0,340.6 648.7,324.0 654.2,322.5 649.0,303.2 658.2,300.8 663.4,320.1 668.9,318.6"/> <polygon points="644.0,313.0 664.0,302.5 664.0,308.2 684.0,308.2 684.0,317.8 664.0,317.8 664.0,323.5"/> <polygon points="691.4,303.2 676.2,319.9 674.2,314.5 655.4,321.3 652.2,312.4 671.0,305.5 669.0,300.1"/> <polygon points="699.9,299.2 684.7,315.9 682.7,310.5 663.9,317.3 660.7,308.4 679.5,301.5 677.5,296.1"/> <polygon points="707.7,296.5 694.0,314.5 691.6,309.3 673.5,317.8 669.5,309.1 687.6,300.7 685.2,295.5"/> <polygon points="715.4,290.0 703.4,309.1 700.5,304.1 683.2,314.1 678.4,305.9 695.7,295.9 692.9,290.9"/> <polygon points="721.3,271.3 714.2,292.8 710.2,288.6 695.9,302.5 689.3,295.7 703.7,281.8 699.7,277.6"/> <polygon points="722.7,285.7 727.6,307.7 722.1,306.2 716.9,325.5 707.7,323.1 712.9,303.8 707.4,302.3"/> <polygon points="720.5,294.3 734.3,312.2 728.7,313.2 732.2,332.9 722.8,334.5 719.3,314.8 713.7,315.8"/> <polygon points="716.8,302.7 739.1,306.7 735.5,311.3 751.3,323.6 745.4,331.1 729.7,318.7 726.1,323.3"/> <polygon points="725.1,303.0 747.4,306.6 744.0,311.2 759.9,323.2 754.2,330.8 738.2,318.8 734.8,323.4"/> <polygon points="733.6,303.0 755.9,306.6 752.5,311.2 768.4,323.2 762.7,330.8 746.7,318.8 743.3,323.4"/> <polygon points="742.2,303.0 764.5,306.6 761.1,311.2 777.0,323.2 771.3,330.8 755.3,318.8 751.9,323.4"/> <polygon points="750.7,303.5 773.0,307.1 769.6,311.7 785.5,323.7 779.8,331.3 763.8,319.3 760.4,323.9"/> <polygon points="759.9,302.1 781.9,307.0 778.3,311.4 793.6,324.2 787.5,331.5 772.1,318.6 768.5,323.0"/> <polygon points="778.8,290.2 795.5,305.4 790.1,307.4 796.9,326.2 788.0,329.4 781.1,310.6 775.7,312.6"/> <polygon points="796.0,298.7 815.1,310.8 810.1,313.6 820.1,330.9 811.9,335.7 801.9,318.4 796.9,321.2"/> <polygon points="787.7,290.7 804.4,305.9 799.0,307.9 805.8,326.7 796.9,329.9 790.0,311.1 784.6,313.1"/> <polygon points="810.4,285.7 827.1,300.9 821.7,302.9 828.5,321.7 819.6,324.9 812.7,306.1 807.3,308.1"/> <polygon points="819.6,293.2 836.3,308.4 830.9,310.4 837.7,329.2 828.8,332.4 821.9,313.6 816.5,315.6"/> <polygon points="827.5,295.8 844.2,311.0 838.8,313.0 845.6,331.8 836.7,335.0 829.8,316.2 824.4,318.2"/> <polygon points="835.2,276.5 852.4,291.1 847.1,293.2 854.6,311.8 845.8,315.3 838.3,296.8 833.0,298.9"/> <polygon points="844.6,285.8 861.8,300.4 856.5,302.5 864.0,321.1 855.2,324.6 847.7,306.1 842.4,308.2"/> <polygon points="842.7,305.1 864.7,310.0 861.1,314.4 876.4,327.2 870.3,334.5 854.9,321.6 851.3,326.0"/> <polygon points="852.7,308.1 874.7,313.0 871.1,317.4 886.4,330.2 880.3,337.5 864.9,324.6 861.3,329.0"/> <polygon points="858.2,294.5 880.8,294.6 878.1,299.7 895.8,309.1 891.3,317.5 873.7,308.1 871.0,313.2"/> <polygon points="867.1,293.6 889.7,293.7 887.0,298.8 904.7,308.2 900.2,316.6 882.6,307.2 879.9,312.3"/> <polygon points="876.6,306.5 899.0,309.4 895.7,314.1 912.1,325.6 906.7,333.4 890.3,321.9 887.0,326.6"/> <polygon points="885.7,308.1 907.7,313.0 904.1,317.4 919.4,330.2 913.3,337.5 897.9,324.6 894.3,329.0"/> <polygon points="892.1,303.9 914.7,304.0 912.0,309.1 929.7,318.5 925.2,326.9 907.6,317.5 904.9,322.6"/> <polygon points="902.7,309.1 924.7,314.0 921.1,318.4 936.4,331.2 930.3,338.5 914.9,325.6 911.3,330.0"/> <polygon points="913.9,309.9 935.4,316.6 931.4,320.6 945.5,334.8 938.8,341.5 924.6,327.4 920.6,331.4"/> <polygon points="919.8,306.0 942.4,306.1 939.7,311.2 957.4,320.6 952.9,329.0 935.3,319.6 932.6,324.7"/> <polygon points="941.0,300.5 960.1,312.6 955.1,315.4 965.1,332.7 956.9,337.5 946.9,320.2 941.9,323.1"/> <polygon points="949.8,300.5 968.9,312.6 963.9,315.4 973.9,332.7 965.7,337.5 955.7,320.2 950.7,323.1"/> <polygon points="964.1,295.3 982.8,308.1 977.7,310.8 987.1,328.4 978.7,332.9 969.3,315.2 964.2,317.9"/> <polygon points="972.6,276.3 989.8,290.9 984.5,293.0 992.0,311.6 983.2,315.1 975.7,296.6 970.4,298.7"/> <polygon points="973.2,299.1 995.2,304.0 991.6,308.4 1006.9,321.2 1000.8,328.5 985.4,315.6 981.8,320.0"/> <polygon points="979.7,302.0 1002.2,302.9 999.4,307.9 1016.7,317.9 1011.9,326.1 994.6,316.1 991.8,321.1"/> <polygon points="986.7,307.2 1009.1,304.1 1007.1,309.5 1025.9,316.4 1022.7,325.3 1003.9,318.5 1001.9,323.9"/> <polygon points="996.3,304.0 1018.8,303.0 1016.4,308.2 1034.5,316.6 1030.5,325.3 1012.4,316.8 1010.0,322.0"/></g>
<polyline points="66.0,351.8 74.8,351.9 83.9,360.4 91.7,361.0 99.4,360.5 109.0,352.0 116.6,333.5 121.0,341.5 122.0,336.0 131.0,337.0 142.0,322.5 143.3,342.6 147.8,316.7 151.6,314.0 159.5,285.2 169.1,267.3 176.5,250.5 186.1,238.2 194.4,237.9 203.0,238.2 211.6,237.9 220.1,247.8 228.7,255.8 237.5,266.0 246.4,257.0 254.5,266.8 263.5,284.3 270.5,304.0 281.0,328.0 285.0,318.0 293.6,307.8 304.4,294.4 314.5,276.0 322.3,276.0 330.5,275.5 340.4,284.2 348.3,294.8 357.0,313.0 365.6,314.0 374.1,324.0 382.6,321.0 391.2,333.0 398.8,351.6 408.1,352.0 415.0,351.3 435.8,340.8 442.4,351.5 450.9,340.0 459.4,333.0 468.0,323.0 476.5,313.8 485.0,313.7 500.0,319.7 501.5,323.5 509.4,332.9 518.3,322.8 533.8,313.1 536.0,313.4 544.6,322.0 553.1,322.0 561.0,322.0 569.0,314.0 578.7,322.0 587.2,323.0 595.8,323.0 604.3,323.0 612.8,333.0 621.4,328.0 629.9,331.0 638.4,325.0 647.0,333.0 655.5,313.0 658.8,321.3 664.0,313.0 672.6,310.0 681.1,306.0 689.6,305.0 698.1,300.0 707.0,285.2 717.5,305.0 724.0,314.0 732.6,315.0 741.1,315.0 749.6,315.0 758.2,315.0 766.7,315.5 775.2,315.0 785.6,309.0 794.5,309.5 806.0,316.0 817.2,304.5 826.4,312.0 834.3,314.6 842.7,295.0 852.1,304.3 858.0,318.0 868.0,321.0 875.9,303.9 884.8,303.0 893.0,318.0 901.0,321.0 909.8,313.3 918.0,322.0 928.0,324.0 937.5,315.4 951.0,317.8 959.8,317.8 973.5,313.0 980.1,294.8 988.5,312.0 997.0,312.0 1005.5,314.0 1014.4,312.5" fill="none" stroke="#999" stroke-width="1"/>
<g stroke="#1a1a1a" stroke-width="0.9" stroke-linejoin="miter"><polygon points="80.4,337.9 73.3,359.4 69.3,355.2 55.0,369.1 48.4,362.3 62.8,348.4 58.8,344.2" fill="#ff0000"/><polygon points="89.4,338.3 81.9,359.6 78.0,355.4 63.4,369.0 56.9,362.1 71.5,348.4 67.6,344.2" fill="#ff0000"/><polygon points="91.7,342.0 93.6,364.6 88.3,362.3 80.5,380.7 71.7,377.0 79.5,358.6 74.2,356.3" fill="#ff0000"/><polygon points="91.7,341.0 102.2,361.0 96.4,361.0 96.4,381.0 86.9,381.0 86.9,361.0 81.2,361.0" fill="#ff0000"/><polygon points="85.3,346.4 106.8,353.1 102.8,357.1 116.9,371.3 110.2,378.0 96.0,363.9 92.0,367.9" fill="#ff0000"/><polygon points="101.2,344.3 119.5,331.1 120.3,336.8 140.1,334.0 141.5,343.4 121.7,346.2 122.5,351.9" fill="#ff0000"/><polygon points="131.7,317.0 141.5,337.4 135.7,337.2 135.0,357.2 125.6,356.8 126.3,336.8 120.5,336.6" fill="#ff0000"/><polygon points="89.0,352.0 109.0,341.5 109.0,347.2 129.0,347.2 129.0,356.8 109.0,356.8 109.0,362.5" fill="#ff0000"/><polygon points="97.3,338.7 113.9,323.4 115.4,328.9 134.7,323.7 137.1,332.9 117.8,338.1 119.3,343.6" fill="#ff0000"/><polygon points="102.7,341.2 119.3,325.9 120.8,331.4 140.1,326.2 142.5,335.4 123.2,340.6 124.7,346.1" fill="#ff0000"/><polygon points="123.2,329.3 138.4,312.6 140.4,318.0 159.2,311.2 162.4,320.1 143.6,327.0 145.6,332.4" fill="#ff0000"/><polygon points="129.0,323.5 144.2,306.8 146.2,312.2 165.0,305.4 168.2,314.3 149.4,321.2 151.4,326.6" fill="#ff0000"/><polygon points="134.5,360.6 133.9,338.0 139.0,340.6 147.8,322.6 156.3,326.8 147.6,344.7 152.7,347.3" fill="#ff0000"/><polygon points="137.5,328.1 144.2,306.6 148.2,310.6 162.4,296.5 169.1,303.2 155.0,317.4 159.0,321.4" fill="#ff0000"/><polygon points="140.2,290.4 156.8,275.1 158.3,280.6 177.6,275.4 180.0,284.6 160.7,289.8 162.2,295.3" fill="#ffff00"/><polygon points="150.6,274.8 165.2,257.6 167.3,262.9 185.9,255.4 189.4,264.2 170.9,271.7 173.0,277.0" fill="#ffff00"/><polygon points="157.1,255.3 174.0,240.3 175.4,245.9 194.8,241.1 197.1,250.3 177.6,255.1 179.0,260.7" fill="#ffff00"/><polygon points="168.0,246.7 181.7,228.7 184.1,233.9 202.2,225.4 206.2,234.1 188.1,242.5 190.5,247.7" fill="#00ee00"/><polygon points="176.3,246.4 190.0,228.4 192.4,233.6 210.5,225.1 214.5,233.8 196.4,242.2 198.8,247.4" fill="#00ee00"/><polygon points="184.9,246.7 198.6,228.7 201.0,233.9 219.1,225.4 223.1,234.1 205.0,242.5 207.4,247.7" fill="#00ee00"/><polygon points="193.8,247.0 206.8,228.5 209.4,233.7 227.3,224.6 231.6,233.1 213.8,242.1 216.4,247.3" fill="#00ee00"/><polygon points="201.6,255.3 216.2,238.1 218.3,243.4 236.9,236.0 240.4,244.8 221.9,252.3 224.0,257.6" fill="#ffff00"/><polygon points="210.5,264.1 224.3,246.3 226.7,251.5 244.9,243.2 248.9,251.8 230.7,260.1 233.1,265.3" fill="#ffff00"/><polygon points="219.1,273.8 233.4,256.3 235.6,261.6 254.1,253.8 257.8,262.6 239.4,270.4 241.6,275.7" fill="#ffff00"/><polygon points="228.0,264.9 242.3,247.3 244.5,252.6 262.9,244.8 266.7,253.5 248.3,261.4 250.5,266.7" fill="#ffff00"/><polygon points="236.0,274.5 250.4,257.1 252.7,262.4 271.1,254.7 274.8,263.5 256.3,271.2 258.6,276.5" fill="#ffff00"/><polygon points="244.8,291.4 259.8,274.5 261.8,279.9 280.5,272.7 283.9,281.6 265.2,288.7 267.2,294.1" fill="#ffff00"/><polygon points="256.6,318.4 262.9,296.7 267.1,300.7 281.0,286.3 287.8,292.9 273.9,307.3 278.1,311.3" fill="#ff0000"/><polygon points="264.0,338.6 275.4,319.1 278.5,324.0 295.4,313.4 300.5,321.4 283.5,332.0 286.6,336.9" fill="#ff0000"/><polygon points="267.3,327.4 280.1,308.7 282.8,313.8 300.4,304.4 304.9,312.8 287.2,322.2 289.9,327.3" fill="#ff0000"/><polygon points="275.2,315.6 289.5,298.1 291.7,303.4 310.2,295.6 313.9,304.4 295.5,312.2 297.7,317.5" fill="#ff0000"/><polygon points="286.4,303.2 299.8,285.0 302.3,290.1 320.3,281.4 324.5,289.9 306.5,298.7 309.0,303.8" fill="#ffff00"/><polygon points="296.4,284.5 310.1,266.5 312.5,271.7 330.6,263.2 334.6,271.9 316.5,280.3 318.9,285.5" fill="#ffff00"/><polygon points="304.2,284.5 317.9,266.5 320.3,271.7 338.4,263.2 342.4,271.9 324.3,280.3 326.7,285.5" fill="#ffff00"/><polygon points="312.2,283.6 326.2,265.9 328.6,271.2 346.8,263.0 350.7,271.7 332.4,279.8 334.8,285.1" fill="#ffff00"/><polygon points="321.9,291.9 336.4,274.5 338.6,279.8 357.1,272.2 360.7,280.9 342.2,288.6 344.4,293.9" fill="#ffff00"/><polygon points="329.8,302.5 344.2,285.1 346.5,290.4 364.9,282.7 368.6,291.5 350.1,299.2 352.4,304.5" fill="#ffff00"/><polygon points="338.9,321.5 352.6,303.5 355.0,308.7 373.1,300.2 377.1,308.9 359.0,317.3 361.4,322.5" fill="#ff0000"/><polygon points="347.2,321.8 361.5,304.3 363.7,309.6 382.2,301.8 385.9,310.6 367.5,318.4 369.7,323.7" fill="#ff0000"/><polygon points="358.8,336.9 367.4,316.0 371.0,320.4 386.4,307.5 392.5,314.8 377.2,327.6 380.8,332.0" fill="#ff0000"/><polygon points="367.3,333.9 375.9,313.0 379.5,317.4 394.9,304.5 401.0,311.8 385.7,324.6 389.3,329.0" fill="#ff0000"/><polygon points="383.7,351.5 381.5,329.1 386.8,331.2 394.3,312.7 403.1,316.2 395.6,334.8 400.9,336.9" fill="#ff0000"/><polygon points="398.8,371.6 388.3,351.6 394.1,351.6 394.1,331.6 403.6,331.6 403.6,351.6 409.3,351.6" fill="#ff0000"/><polygon points="422.2,366.1 400.7,359.4 404.7,355.4 390.6,341.2 397.3,334.5 411.5,348.6 415.5,344.6" fill="#ff0000"/><polygon points="435.0,351.3 415.0,361.8 415.0,356.1 395.0,356.1 395.0,346.6 415.0,346.6 415.0,340.8" fill="#ff0000"/><polygon points="454.6,347.6 432.2,350.7 434.2,345.3 415.4,338.4 418.6,329.5 437.4,336.3 439.4,330.9" fill="#ff0000"/><polygon points="442.4,371.5 431.9,351.5 437.6,351.5 437.6,331.5 447.1,331.5 447.1,351.5 452.9,351.5" fill="#ff0000"/><polygon points="439.4,356.4 442.3,334.0 447.0,337.3 458.5,320.9 466.3,326.3 454.8,342.7 459.5,346.0" fill="#ff0000"/><polygon points="445.3,347.1 452.0,325.6 456.0,329.6 470.2,315.5 476.9,322.2 462.8,336.4 466.8,340.4" fill="#ff0000"/><polygon points="453.9,337.1 460.6,315.6 464.6,319.6 478.8,305.5 485.5,312.2 471.4,326.4 475.4,330.4" fill="#ff0000"/><polygon points="462.4,327.9 469.1,306.4 473.1,310.4 487.3,296.3 494.0,303.0 479.9,317.2 483.9,321.2" fill="#ff0000"/><polygon points="470.9,327.8 477.6,306.3 481.6,310.3 495.8,296.2 502.5,302.9 488.4,317.1 492.4,321.1" fill="#ff0000"/><polygon points="488.5,336.1 491.4,313.7 496.1,317.0 507.6,300.6 515.4,306.0 503.9,322.4 508.6,325.7" fill="#ff0000"/><polygon points="487.9,338.1 493.8,316.3 498.0,320.3 511.7,305.6 518.6,312.1 505.0,326.7 509.2,330.7" fill="#ff0000"/><polygon points="495.7,347.5 501.7,325.7 505.9,329.7 519.5,315.0 526.5,321.5 512.8,336.1 517.0,340.1" fill="#ff0000"/><polygon points="504.7,337.4 510.6,315.6 514.8,319.6 528.5,304.9 535.4,311.4 521.8,326.0 526.0,330.0" fill="#ff0000"/><polygon points="530.3,293.4 544.1,311.3 538.5,312.3 542.0,332.0 532.6,333.6 529.1,313.9 523.5,314.9" fill="#ff0000"/><polygon points="536.0,333.4 525.5,313.4 531.2,313.4 531.2,293.4 540.8,293.4 540.8,313.4 546.5,313.4" fill="#ff0000"/><polygon points="557.5,337.3 536.6,328.7 541.0,325.1 528.1,309.7 535.4,303.6 548.2,318.9 552.6,315.3" fill="#ff0000"/><polygon points="567.2,336.1 545.7,329.4 549.7,325.4 535.6,311.2 542.3,304.5 556.5,318.6 560.5,314.6" fill="#ff0000"/><polygon points="576.3,334.9 554.3,330.0 557.9,325.6 542.6,312.8 548.7,305.5 564.1,318.4 567.7,314.0" fill="#ff0000"/><polygon points="575.8,332.8 559.1,317.6 564.5,315.6 557.7,296.8 566.6,293.6 573.5,312.4 578.9,310.4" fill="#ff0000"/><polygon points="578.7,342.0 568.2,322.0 574.0,322.0 574.0,302.0 583.5,302.0 583.5,322.0 589.2,322.0" fill="#ff0000"/><polygon points="580.4,341.8 577.3,319.4 582.7,321.4 589.6,302.6 598.5,305.8 591.7,324.6 597.1,326.6" fill="#ff0000"/><polygon points="581.7,337.1 588.4,315.6 592.4,319.6 606.6,305.5 613.3,312.2 599.2,326.4 603.2,330.4" fill="#ff0000"/><polygon points="590.2,337.1 596.9,315.6 600.9,319.6 615.1,305.5 621.8,312.2 607.7,326.4 611.7,330.4" fill="#ff0000"/><polygon points="598.7,347.1 605.4,325.6 609.4,329.6 623.6,315.5 630.3,322.2 616.2,336.4 620.2,340.4" fill="#ff0000"/><polygon points="616.2,347.3 611.3,325.3 616.8,326.8 622.0,307.5 631.2,309.9 626.0,329.2 631.5,330.7" fill="#ff0000"/><polygon points="626.4,350.7 619.6,329.2 625.2,330.2 628.7,310.5 638.1,312.1 634.6,331.8 640.2,332.8" fill="#ff0000"/><polygon points="625.5,340.3 630.4,318.3 634.8,321.9 647.6,306.6 654.9,312.7 642.0,328.1 646.4,331.7" fill="#ff0000"/><polygon points="647.0,353.0 636.5,333.0 642.2,333.0 642.2,313.0 651.8,313.0 651.8,333.0 657.5,333.0" fill="#ff0000"/><polygon points="635.5,313.0 655.5,302.5 655.5,308.2 675.5,308.2 675.5,317.8 655.5,317.8 655.5,323.5" fill="#ff0000"/><polygon points="664.0,340.6 648.7,324.0 654.2,322.5 649.0,303.2 658.2,300.8 663.4,320.1 668.9,318.6" fill="#ff0000"/><polygon points="644.0,313.0 664.0,302.5 664.0,308.2 684.0,308.2 684.0,317.8 664.0,317.8 664.0,323.5" fill="#ff0000"/><polygon points="691.4,303.2 676.2,319.9 674.2,314.5 655.4,321.3 652.2,312.4 671.0,305.5 669.0,300.1" fill="#ff0000"/><polygon points="699.9,299.2 684.7,315.9 682.7,310.5 663.9,317.3 660.7,308.4 679.5,301.5 677.5,296.1" fill="#ff0000"/><polygon points="707.7,296.5 694.0,314.5 691.6,309.3 673.5,317.8 669.5,309.1 687.6,300.7 685.2,295.5" fill="#ff0000"/><polygon points="715.4,290.0 703.4,309.1 700.5,304.1 683.2,314.1 678.4,305.9 695.7,295.9 692.9,290.9" fill="#ff0000"/><polygon points="721.3,271.3 714.2,292.8 710.2,288.6 695.9,302.5 689.3,295.7 703.7,281.8 699.7,277.6" fill="#ffff00"/><polygon points="722.7,285.7 727.6,307.7 722.1,306.2 716.9,325.5 707.7,323.1 712.9,303.8 707.4,302.3" fill="#ff0000"/><polygon points="720.5,294.3 734.3,312.2 728.7,313.2 732.2,332.9 722.8,334.5 719.3,314.8 713.7,315.8" fill="#ff0000"/><polygon points="716.8,302.7 739.1,306.7 735.5,311.3 751.3,323.6 745.4,331.1 729.7,318.7 726.1,323.3" fill="#ff0000"/><polygon points="725.1,303.0 747.4,306.6 744.0,311.2 759.9,323.2 754.2,330.8 738.2,318.8 734.8,323.4" fill="#ff0000"/><polygon points="733.6,303.0 755.9,306.6 752.5,311.2 768.4,323.2 762.7,330.8 746.7,318.8 743.3,323.4" fill="#ff0000"/><polygon points="742.2,303.0 764.5,306.6 761.1,311.2 777.0,323.2 771.3,330.8 755.3,318.8 751.9,323.4" fill="#ff0000"/><polygon points="750.7,303.5 773.0,307.1 769.6,311.7 785.5,323.7 779.8,331.3 763.8,319.3 760.4,323.9" fill="#ff0000"/><polygon points="759.9,302.1 781.9,307.0 778.3,311.4 793.6,324.2 787.5,331.5 772.1,318.6 768.5,323.0" fill="#ff0000"/><polygon points="778.8,290.2 795.5,305.4 790.1,307.4 796.9,326.2 788.0,329.4 781.1,310.6 775.7,312.6" fill="#ff0000"/><polygon points="796.0,298.7 815.1,310.8 810.1,313.6 820.1,330.9 811.9,335.7 801.9,318.4 796.9,321.2" fill="#ff0000"/><polygon points="787.7,290.7 804.4,305.9 799.0,307.9 805.8,326.7 796.9,329.9 790.0,311.1 784.6,313.1" fill="#ff0000"/><polygon points="810.4,285.7 827.1,300.9 821.7,302.9 828.5,321.7 819.6,324.9 812.7,306.1 807.3,308.1" fill="#ff0000"/><polygon points="819.6,293.2 836.3,308.4 830.9,310.4 837.7,329.2 828.8,332.4 821.9,313.6 816.5,315.6" fill="#ff0000"/><polygon points="827.5,295.8 844.2,311.0 838.8,313.0 845.6,331.8 836.7,335.0 829.8,316.2 824.4,318.2" fill="#ff0000"/><polygon points="835.2,276.5 852.4,291.1 847.1,293.2 854.6,311.8 845.8,315.3 838.3,296.8 833.0,298.9" fill="#ffff00"/><polygon points="844.6,285.8 861.8,300.4 856.5,302.5 864.0,321.1 855.2,324.6 847.7,306.1 842.4,308.2" fill="#ff0000"/><polygon points="842.7,305.1 864.7,310.0 861.1,314.4 876.4,327.2 870.3,334.5 854.9,321.6 851.3,326.0" fill="#ff0000"/><polygon points="852.7,308.1 874.7,313.0 871.1,317.4 886.4,330.2 880.3,337.5 864.9,324.6 861.3,329.0" fill="#ff0000"/><polygon points="858.2,294.5 880.8,294.6 878.1,299.7 895.8,309.1 891.3,317.5 873.7,308.1 871.0,313.2" fill="#ff0000"/><polygon points="867.1,293.6 889.7,293.7 887.0,298.8 904.7,308.2 900.2,316.6 882.6,307.2 879.9,312.3" fill="#ff0000"/><polygon points="876.6,306.5 899.0,309.4 895.7,314.1 912.1,325.6 906.7,333.4 890.3,321.9 887.0,326.6" fill="#ff0000"/><polygon points="885.7,308.1 907.7,313.0 904.1,317.4 919.4,330.2 913.3,337.5 897.9,324.6 894.3,329.0" fill="#ff0000"/><polygon points="892.1,303.9 914.7,304.0 912.0,309.1 929.7,318.5 925.2,326.9 907.6,317.5 904.9,322.6" fill="#ff0000"/><polygon points="902.7,309.1 924.7,314.0 921.1,318.4 936.4,331.2 930.3,338.5 914.9,325.6 911.3,330.0" fill="#ff0000"/><polygon points="913.9,309.9 935.4,316.6 931.4,320.6 945.5,334.8 938.8,341.5 924.6,327.4 920.6,331.4" fill="#ff0000"/><polygon points="919.8,306.0 942.4,306.1 939.7,311.2 957.4,320.6 952.9,329.0 935.3,319.6 932.6,324.7" fill="#ff0000"/><polygon points="941.0,300.5 960.1,312.6 955.1,315.4 965.1,332.7 956.9,337.5 946.9,320.2 941.9,323.1" fill="#ff0000"/><polygon points="949.8,300.5 968.9,312.6 963.9,315.4 973.9,332.7 965.7,337.5 955.7,320.2 950.7,323.1" fill="#ff0000"/><polygon points="964.1,295.3 982.8,308.1 977.7,310.8 987.1,328.4 978.7,332.9 969.3,315.2 964.2,317.9" fill="#ff0000"/><polygon points="972.6,276.3 989.8,290.9 984.5,293.0 992.0,311.6 983.2,315.1 975.7,296.6 970.4,298.7" fill="#ffff00"/><polygon points="973.2,299.1 995.2,304.0 991.6,308.4 1006.9,321.2 1000.8,328.5 985.4,315.6 981.8,320.0" fill="#ff0000"/><polygon points="979.7,302.0 1002.2,302.9 999.4,307.9 1016.7,317.9 1011.9,326.1 994.6,316.1 991.8,321.1" fill="#ff0000"/><polygon points="986.7,307.2 1009.1,304.1 1007.1,309.5 1025.9,316.4 1022.7,325.3 1003.9,318.5 1001.9,323.9" fill="#ff0000"/><polygon points="996.3,304.0 1018.8,303.0 1016.4,308.2 1034.5,316.6 1030.5,325.3 1012.4,316.8 1010.0,322.0" fill="#ff0000"/></g>
</svg></body></html>
